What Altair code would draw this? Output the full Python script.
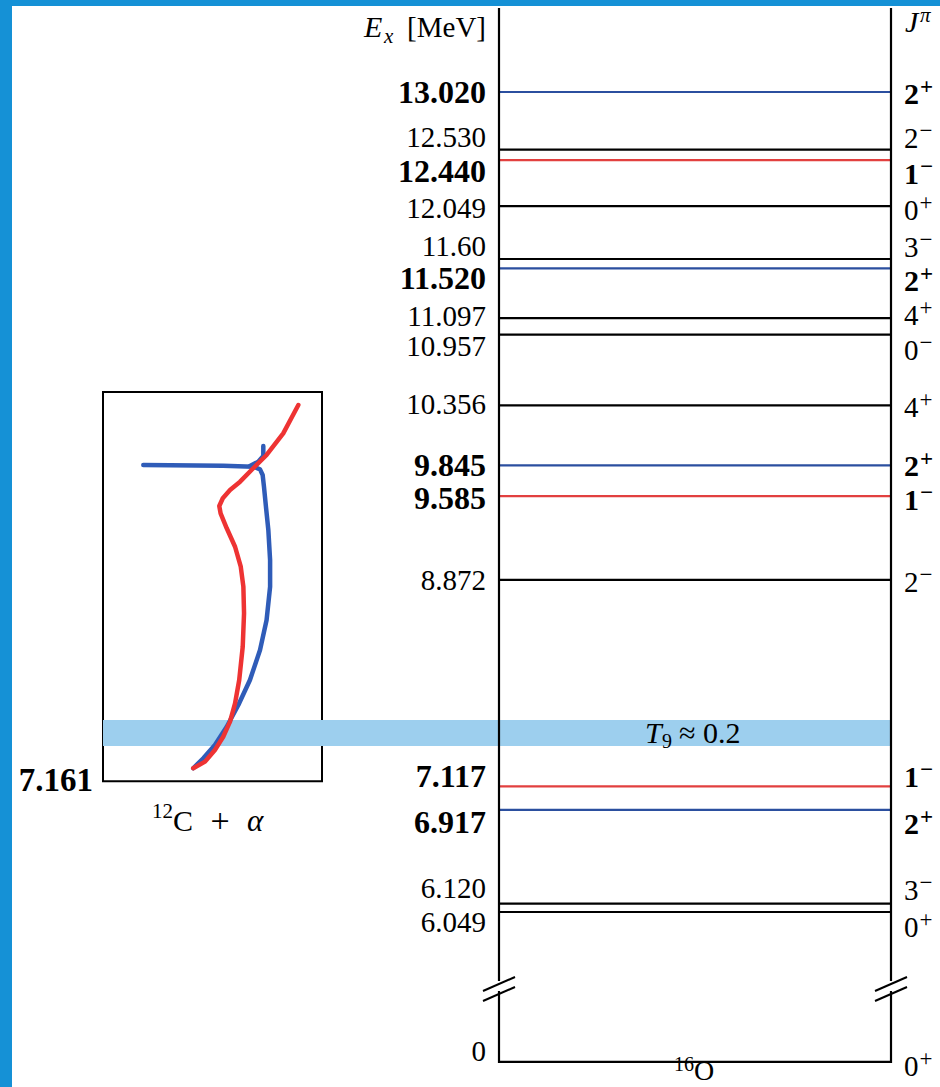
import altair as alt
import pandas as pd

# ---------------- data ----------------
level_E = [13.020, 12.530, 12.440, 12.049, 11.60, 11.520, 11.097, 10.957,
           10.356, 9.845, 9.585, 8.872, 7.117, 6.917, 6.120, 6.049, 0.0]
level_label = ["13.020", "12.530", "12.440", "12.049", "11.60", "11.520",
               "11.097", "10.957", "10.356", "9.845", "9.585", "8.872",
               "7.117", "6.917", "6.120", "6.049", "0"]
level_spin = ["2", "2", "1", "0", "3", "2", "4", "0", "4", "2", "1", "2",
              "1", "2", "3", "0", "0"]
level_parity = ["+", "\u2212", "\u2212", "+", "\u2212", "+", "+", "\u2212",
                "+", "+", "\u2212", "\u2212", "\u2212", "+", "\u2212", "+", "+"]
level_kind = ["E2", "other", "E1", "other", "other", "E2", "other", "other",
              "other", "E2", "E1", "other", "E1", "E2", "other", "other", "other"]

threshold_E = 7.161          # 12C + alpha threshold
inset_top_E = 10.47
gamow_lo_E, gamow_hi_E = 7.460, 7.681

# inset curves: horizontal position as fraction of the inset box, energy in MeV
red_x = [0.412, 0.466, 0.511, 0.549, 0.580, 0.603, 0.622, 0.638, 0.644, 0.641,
         0.629, 0.603, 0.565, 0.537, 0.531, 0.547, 0.580, 0.626, 0.686, 0.747,
         0.823, 0.892]
red_E = [7.271, 7.327, 7.426, 7.539, 7.667, 7.823, 8.021, 8.304, 8.588, 8.814,
         8.984, 9.154, 9.311, 9.438, 9.500, 9.566, 9.636, 9.707, 9.821, 9.934,
         10.118, 10.359]
blue_x = [0.412, 0.458, 0.511, 0.565, 0.618, 0.671, 0.717, 0.747, 0.763, 0.763,
          0.755, 0.744, 0.735, 0.729, 0.717, 0.686, 0.549, 0.184]
blue_E = [7.271, 7.356, 7.469, 7.624, 7.809, 8.021, 8.276, 8.531, 8.814, 9.041,
          9.296, 9.495, 9.665, 9.764, 9.812, 9.835, 9.843, 9.849]
hook_x = [0.671, 0.709, 0.732, 0.732]
hook_E = [9.840, 9.877, 9.926, 10.011]

# ---------------- layout / style ----------------
W, H = 940, 1087
PX_PER_MEV = 117.63
E_AT_TOP = 13.802
E_AT_BOTTOM = E_AT_TOP - H / PX_PER_MEV
GROUND_DISPLAY_E = 4.774      # where the broken axis puts the 0 MeV level
AX_L, AX_R = 499, 891
INSET_L, INSET_R = 103, 322
label_dy = [1, -12, 12, 3, -12, 11, -1, 12, 0, 1, 3, 1, -9, 13, -15, 11, -10]
jp_dy = [3, -11, 15, 5, -11, 14, -2, 16, 3, 2, 5, 3, -8, 15, -13, 16, 5]

FONT = "Liberation Serif"
RED_LVL, BLUE_LVL = "#e2403f", "#2b4f9f"
RED_C, BLUE_C = "#ee3333", "#2f5cb8"
BAND = "#9dcfee"
FRAME = "#1591d6"

yscale = alt.Scale(domain=[E_AT_BOTTOM, E_AT_TOP], nice=False, zero=False)

lv = pd.DataFrame({
    "E": level_E, "label": level_label, "spin": level_spin,
    "parity": level_parity, "kind": level_kind,
})
lv["E_disp"] = [e if e > 0 else GROUND_DISPLAY_E for e in level_E]
lv["lab_E"] = lv["E_disp"] - pd.Series(label_dy) / PX_PER_MEV
lv["jp_E"] = lv["E_disp"] - pd.Series(jp_dy) / PX_PER_MEV
lv["sig_E"] = lv["jp_E"] + 8 / PX_PER_MEV
lv["bold"] = lv["kind"] != "other"

dummy = pd.DataFrame({"d": [0]})

Y = lambda f: alt.Y(f, scale=yscale, axis=None)

# Gamow window band
band = alt.Chart(pd.DataFrame({"lo": [gamow_lo_E], "hi": [gamow_hi_E]})).mark_rect(
    color=BAND).encode(x=alt.value(INSET_L), x2=alt.value(AX_R), y=Y("lo:Q"), y2="hi:Q")

box = alt.Chart(pd.DataFrame({"lo": [threshold_E], "hi": [inset_top_E]})).mark_rect(
    fillOpacity=0, stroke="black", strokeWidth=2).encode(
    x=alt.value(INSET_L), x2=alt.value(INSET_R), y=Y("lo:Q"), y2="hi:Q")

levels = alt.Chart(lv).mark_rule(strokeWidth=2.2).encode(
    x=alt.value(AX_L), x2=alt.value(AX_R), y=Y("E_disp:Q"),
    color=alt.Color("kind:N", scale=alt.Scale(domain=["E1", "E2", "other"],
                                              range=[RED_LVL, BLUE_LVL, "black"]),
                    legend=None))

# vertical axes with break marks
axes_layers = []
for xa in (AX_L, AX_R):
    axes_layers.append(alt.Chart(dummy).mark_rule(strokeWidth=2.2, color="black").encode(
        x=alt.value(xa), y=alt.value(8), y2=alt.value(981)))
    axes_layers.append(alt.Chart(dummy).mark_rule(strokeWidth=2.2, color="black").encode(
        x=alt.value(xa), y=alt.value(991), y2=alt.value(1063)))
    for off in (0, 10):
        axes_layers.append(alt.Chart(dummy).mark_rule(strokeWidth=2, color="black").encode(
            x=alt.value(xa - 16), x2=alt.value(xa + 16),
            y=alt.value(991 + off), y2=alt.value(977 + off)))

def curve(xs, es, color):
    df = pd.DataFrame({"xf": xs, "E": es, "i": range(len(xs))})
    return alt.Chart(df).mark_line(color=color, strokeWidth=4.5, strokeCap="round",
                                   strokeJoin="round").encode(
        x=alt.X("xf:Q", scale=alt.Scale(domain=[0, 1], range=[INSET_L, INSET_R]), axis=None),
        y=Y("E:Q"), order="i:Q")

curves = [curve(blue_x, blue_E, BLUE_C), curve(hook_x, hook_E, BLUE_C),
          curve(red_x, red_E, RED_C)]

reg = lv[~lv["bold"]]
bld = lv[lv["bold"]]

def ltext(df, size, weight):
    return alt.Chart(df).mark_text(align="right", baseline="middle", font=FONT,
                                   fontSize=size, fontWeight=weight, color="black").encode(
        x=alt.value(486), y=Y("lab_E:Q"), text="label:N")

def jptext(df, size, weight):
    main = alt.Chart(df).mark_text(align="left", baseline="middle", font=FONT,
                                   fontSize=size, fontWeight=weight, color="black").encode(
        x=alt.value(904), y=Y("jp_E:Q"), text="spin:N")
    sig = alt.Chart(df).mark_text(align="left", baseline="middle", font=FONT,
                                  fontSize=23, fontWeight=weight, color="black").encode(
        x=alt.value(904 + size * 0.5 + 1), y=Y("sig_E:Q"), text="parity:N")
    return [main, sig]

texts = [ltext(reg, 29, "normal"), ltext(bld, 32, "bold")]
texts += jptext(reg, 29, "normal") + jptext(bld, 30, "bold")

def vtext(txt, x, y, size=29, align="left", style="normal", weight="normal"):
    return alt.Chart(dummy).mark_text(text=txt, align=align, baseline="alphabetic",
                                      font=FONT, fontSize=size, fontStyle=style,
                                      fontWeight=weight, color="black").encode(
        x=alt.value(x), y=alt.value(y))

thr = pd.DataFrame({"E": [threshold_E], "t": ["7.161"]})
thr_text = alt.Chart(thr).mark_text(align="right", baseline="middle", font=FONT,
                                    fontSize=33, fontWeight="bold", color="black").encode(
    x=alt.value(93), y=Y("E:Q"), text="t:N")

deco_text = [
    vtext("[MeV]", 486, 37, align="right"),
    vtext("E", 364, 37, size=30, style="italic"),
    vtext("x", 384, 43, size=21, style="italic"),
    vtext("J", 905, 32, size=30, style="italic"),
    vtext("\u03c0", 920, 22, size=21, style="italic"),
    vtext("T", 645, 743, size=30, style="italic"),
    vtext("9", 662, 748, size=20),
    vtext("\u2248 0.2", 679, 743, size=30),
    vtext("12", 173, 818, size=21, align="right"),
    vtext("C", 173, 831, size=30),
    vtext("+", 220, 832, size=34, align="center"),
    vtext("\u03b1", 247, 831, size=31, style="italic"),
    vtext("16", 694, 1071, size=20, align="right"),
    vtext("O", 694, 1080, size=28),
    thr_text,
]

frame = [
    alt.Chart(dummy).mark_rect(color=FRAME).encode(
        x=alt.value(0), x2=alt.value(12), y=alt.value(0), y2=alt.value(H)),
    alt.Chart(dummy).mark_rect(color=FRAME).encode(
        x=alt.value(0), x2=alt.value(W), y=alt.value(0), y2=alt.value(6)),
]

chart = alt.layer(box, band, levels, *axes_layers, *curves, *texts, *deco_text, *frame).properties(
    width=W, height=H, padding=0, autosize="none", background="white"
).configure_view(strokeWidth=0)

chart.save("out.html", embed_options={"renderer": "svg", "actions": False})
